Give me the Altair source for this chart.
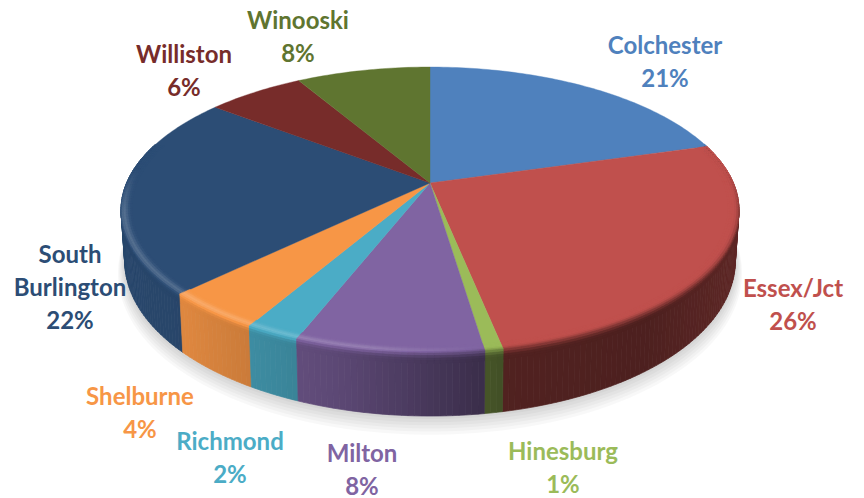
import numpy as np
import altair as alt

# ---- data
towns = ["Colchester", "Essex/Jct", "Hinesburg", "Milton", "Richmond",
         "Shelburne", "South Burlington", "Williston", "Winooski"]
shares = [20.5, 26.35, 0.8, 8.25, 2.4, 4.4, 22.8, 6.1, 8.4]
shown = ["21%", "26%", "1%", "8%", "2%", "4%", "22%", "6%", "8%"]
colors = ["#4f81bd", "#c0504d", "#9bbb59", "#8064a2", "#4bacc6",
          "#f79646", "#2c4d75", "#772c2a", "#5f7530"]
label_lines = [["Colchester"], ["Essex/Jct"], ["Hinesburg"], ["Milton"], ["Richmond"],
               ["Shelburne"], ["South", "Burlington"], ["Williston"], ["Winooski"]]
label_x = [665, 793, 563, 362, 230, 140, 70, 184, 298]
label_y = [47, 290, 453, 455, 443, 398, 256, 56, 22]
LINE = 33

# ---- view geometry (tilted disc seen in perspective)
CX, CY, R, B, K = 430, 183, 303.4, 137.9, 0.189

def proj(r, a, drop=0.0):
    u, v = r * np.sin(a), -r * np.cos(a)
    w = 1 - K * v
    x = CX + R * u / w
    y = CY + B * v / w
    if drop:
        d = drop * (48 + 15 * v)
        x = CX + (x - CX) * (1 - 0.012 * drop)
        y = y + d
    return [float(x) - 8, float(y) - 8]

def feat(points, fill):
    pts = points + [points[0]]
    return {"type": "Feature", "properties": {"fill": fill},
            "geometry": {"type": "Polygon", "coordinates": [pts]}}

def shade(hexc, f):
    c = [int(hexc[i:i + 2], 16) for i in (1, 3, 5)]
    if f <= 1:
        c = [v * f for v in c]
    else:
        c = [v + (255 - v) * (f - 1) for v in c]
    return "#%02x%02x%02x" % tuple(int(round(min(255, v))) for v in c)

def side_factor(u):
    return float(np.interp(u, [-1, -.7, -.5, -.35, -.25, 0, .2, .6, 1],
                           [.92, .9, .82, .76, .72, .55, .42, .40, .5]))

def smooth(t):
    t = np.clip(t, 0, 1)
    return t * t * (3 - 2 * t)

edges = np.cumsum([0] + shares) / sum(shares) * 2 * np.pi

shadow, walls, tops, bevels = [], [], [], []
for s in range(6):
    grow = 1.0 + 0.004 * (6 - s)
    ring = [proj(grow, a, drop=1.0 + 0.035 * (6 - s)) for a in np.linspace(0, 2 * np.pi, 180)]
    shadow.append(feat(ring, "#000000"))

strips = []
for i, color in enumerate(colors):
    a0, a1 = edges[i], edges[i + 1]
    arc = np.linspace(a0, a1, max(2, int((a1 - a0) / np.radians(1.0)) + 2))
    tops.append(feat([proj(0, 0)] + [proj(1, a) for a in arc], color))
    for p, q in zip(arc[:-1], arc[1:]):
        strips.append((-np.cos((p + q) / 2), p, q, color))

# rim steps: (radius, drop) from the flat top over the edge on to the wall
rim = [(.965, 0), (.972, 0), (.979, 0), (.986, 0), (.993, 0), (1, 0),
       (1, .04), (1, .08), (1, .12), (1, .16)]
strips.sort(key=lambda t: t[0])
for v, p, q, color in strips:
    if v < -0.3:
        continue
    m = (p + q) / 2
    u = np.sin(m)
    f = side_factor(u)
    walls.append(feat([proj(1, p), proj(1, q), proj(1, q, 1), proj(1, p, 1)], shade(color, f)))
    strength = float(np.clip((v + 0.1) / 0.3, 0, 1))
    lit = float(np.clip((0.15 - u) / 0.3, 0, 1))
    for j in range(len(rim) - 1):
        t = (j + 0.5) / (len(rim) - 1)
        g = 1 + (f - 1) * smooth((t - 0.3) / 0.6) * (1 if rim[j][1] else strength)
        g += 0.2 * np.exp(-((t - 0.42) / 0.2) ** 2) * lit * strength
        r0, d0 = rim[j]
        r1, d1 = rim[j + 1]
        bevels.append(feat([proj(r0, p, d0), proj(r0, q, d0),
                            proj(r1, q, d1), proj(r1, p, d1)],
                           shade(color, float(g))))

px, py, pc, pt = [], [], [], []
for i, lines in enumerate(label_lines):
    for j, line in enumerate(lines + [shown[i]]):
        px.append(label_x[i] - 8)
        py.append(label_y[i] - 8 + j * LINE)
        pc.append(colors[i])
        pt.append(line)

identity = dict(type="identity", scale=1, translate=[0, 0])

def shapes(features, **kw):
    return (alt.Chart(alt.Data(values=features))
            .mark_geoshape(**kw)
            .encode(fill=alt.Fill("properties.fill:N", scale=None),
                    stroke=alt.Stroke("properties.fill:N", scale=None))
            .project(**identity))

text = (alt.Chart(alt.Data(values=[{"x": a, "y": b, "c": c, "t": t}
                                   for a, b, c, t in zip(px, py, pc, pt)]))
        .mark_text(font="Lato", fontWeight="bold", fontSize=24, baseline="middle", align="center")
        .encode(longitude="x:Q", latitude="y:Q", text="t:N", color=alt.Color("c:N", scale=None))
        .project(**identity))

chart = alt.layer(
    shapes(shadow, opacity=0.028, strokeWidth=0),
    shapes(walls, strokeWidth=0.7),
    shapes(tops, strokeWidth=0.4),
    shapes(bevels, strokeWidth=0.6),
    text,
).properties(width=848, height=490, padding=0,
             autosize=alt.AutoSizeParams(type="none")).configure_view(stroke=None)

chart.save("out.html", embed_options={"renderer": "svg", "actions": False})
